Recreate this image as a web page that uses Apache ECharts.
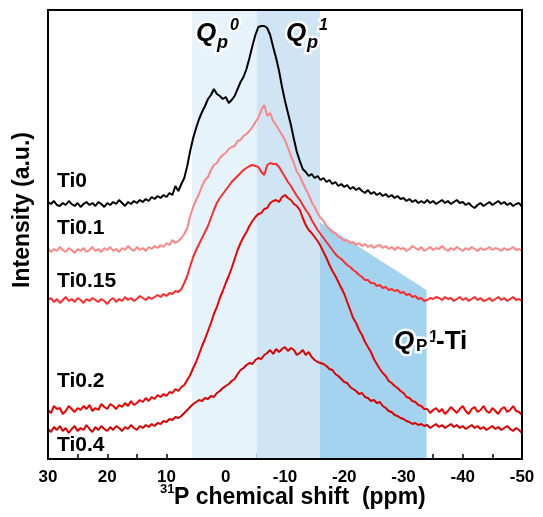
<!DOCTYPE html>
<html>
<head>
<meta charset="utf-8">
<script src="https://cdn.jsdelivr.net/npm/echarts@6/dist/echarts.min.js"></script>
<style>
html,body{margin:0;padding:0;background:#fff;}
#chart{width:543px;height:517px;}
</style>
</head>
<body>
<div id="chart"></div>
<script>
// chemical shift (ppm)
var shift = [
30,29.5,29,28.5,28,27.5,27,26.5,26,25.5,
25,24.5,24,23.5,23,22.5,22,21.5,21,20.5,
20,19.5,19,18.5,18,17.5,17,16.5,16,15.5,
15,14.5,14,13.5,13,12.5,12,11.5,11,10.5,
10,9.5,9,8.5,8,7.5,7,6.5,6,5.5,
5,4.5,4,3.5,3,2.5,2,1.5,1,0.5,
0,-0.5,-1,-1.5,-2,-2.5,-3,-3.5,-4,-4.5,
-5,-5.5,-6,-6.5,-7,-7.5,-8,-8.5,-9,-9.5,
-10,-10.5,-11,-11.5,-12,-12.5,-13,-13.5,-14,-14.5,
-15,-15.5,-16,-16.5,-17,-17.5,-18,-18.5,-19,-19.5,
-20,-20.5,-21,-21.5,-22,-22.5,-23,-23.5,-24,-24.5,
-25,-25.5,-26,-26.5,-27,-27.5,-28,-28.5,-29,-29.5,
-30,-30.5,-31,-31.5,-32,-32.5,-33,-33.5,-34,-34.5,
-35,-35.5,-36,-36.5,-37,-37.5,-38,-38.5,-39,-39.5,
-40,-40.5,-41,-41.5,-42,-42.5,-43,-43.5,-44,-44.5,
-45,-45.5,-46,-46.5,-47,-47.5,-48,-48.5,-49,-49.5,
-50];

// stacked intensities (a.u., offset per sample)
var ti0 = [
257,255,258,254,253,256,254,258,255,253,
256,252,255,257,254,256,253,257,255,252,
256,254,257,255,259,256,253,257,255,258,
256,259,257,260,258,262,260,263,261,264,
262,266,264,273,268,275,281,293,308,321,
331,340,347,353,360,364,370,365,363,360,
362,356,359,363,370,377,382,390,401,413,
424,432,433,433,431,424,412,401,388,372,
358,346,334,320,307,298,290,287,283,285,
281,283,279,281,277,279,275,277,273,275,
272,274,270,272,269,271,268,266,269,265,
267,264,266,263,265,262,264,261,263,260,
261,258,260,257,259,256,258,256,259,256,
258,255,257,259,256,258,255,257,259,256,
257,254,256,253,251,254,256,253,255,257,
254,256,258,255,257,254,256,253,255,256,
252];

var ti01 = [
211,207,210,208,212,209,207,211,209,206,
210,208,211,207,209,212,208,210,207,211,
209,212,208,210,207,211,209,213,210,208,
212,209,211,208,212,210,213,211,214,212,
216,214,219,216,218,221,225,231,243,252,
259,265,273,279,282,289,294,296,301,304,
306,310,312,313,318,319,323,325,328,332,
337,341,349,354,343,346,338,334,329,324,
319,311,303,296,287,283,276,270,264,257,
252,246,241,238,233,230,227,226,222,221,
218,219,216,217,214,216,213,215,212,214,
211,213,214,211,213,210,212,209,212,210,
211,208,210,213,211,209,212,208,210,212,
209,211,210,213,210,208,211,209,212,210,
208,211,209,212,210,208,211,209,210,212,
209,211,210,208,211,209,210,212,209,210,
208];

var ti015 = [
159,161,157,160,156,159,162,158,160,157,
161,159,156,160,158,161,159,157,160,158,
155,159,161,157,160,158,162,159,161,158,
160,163,161,159,162,160,162,164,162,165,
163,166,165,168,167,170,176,183,193,202,
209,215,221,227,233,241,249,256,261,265,
269,273,277,280,283,286,289,291,293,294,
293,292,287,284,294,296,295,295,292,287,
282,277,273,268,263,259,254,249,245,239,
234,229,225,221,217,213,209,205,202,200,
197,194,192,189,187,184,182,179,179,176,
176,173,174,171,172,169,170,168,169,166,
167,164,165,162,163,160,161,158,159,161,
160,162,161,159,162,160,161,158,160,162,
159,161,158,160,162,159,161,158,159,161,
158,160,162,159,161,158,160,162,159,160,
158];

var ti02 = [
49,46,53,50,51,45,48,53,50,47,
51,49,53,50,54,48,51,49,55,52,
50,55,53,50,54,52,56,53,58,54,
56,59,57,61,58,62,60,64,62,65,
63,67,66,70,68,72,74,79,84,91,
97,105,113,120,128,136,145,152,161,168,
176,183,191,200,209,216,222,227,233,238,
242,245,246,250,251,256,258,259,257,262,
264,261,259,255,253,249,241,234,229,226,
222,218,213,207,201,194,188,183,177,171,
165,157,149,141,136,129,124,117,112,107,
100,95,90,86,83,78,76,73,71,68,
66,62,61,58,57,54,53,50,50,46,
49,51,47,50,45,48,52,49,46,50,
53,48,45,50,52,47,49,53,48,46,
51,48,45,50,52,47,49,53,48,47,
44];

var ti04 = [
30,27,32,29,33,28,31,26,30,33,
28,31,29,34,30,27,32,29,33,30,
28,32,29,33,31,28,32,30,34,31,
29,33,31,34,32,35,33,36,35,38,
37,40,39,42,41,43,46,49,52,55,
57,59,58,61,60,63,62,66,68,71,
73,75,78,80,85,89,91,94,96,95,
99,101,100,104,106,109,105,110,107,110,
112,108,111,109,104,106,109,104,107,102,
99,97,96,95,93,90,89,85,83,80,
77,76,72,70,68,65,66,62,61,58,
59,56,57,53,51,48,47,44,43,41,
40,38,37,35,36,34,35,33,34,31,
33,35,32,34,31,33,35,32,34,31,
33,30,32,34,31,33,30,32,29,31,
33,30,32,29,31,33,30,28,31,29,
26];

var sampleNames = ['Ti0', 'Ti0.1', 'Ti0.15', 'Ti0.2', 'Ti0.4'];
var xTicks = [30, 20, 10, 0, -10, -20, -30, -40, -50];

// shaded assignment regions (ppm) and Qp1-Ti trapezoid
var qp0Range = [5.7, -5.2];
var qp1Range = [-5.2, -15.9];
var qp1TiShift = [-15.9, -33.9];
var qp1TiTop = [237, 169];

var FONT = 'Arial, "Liberation Sans", sans-serif';

function pairs(ys) { return shift.map(function (x, i) { return [x, ys[i]]; }); }

var lineColors = ['#000000', '#ff8585', '#ff2a2a', '#f20000', '#d80000'];
var allData = [ti0, ti01, ti015, ti02, ti04];

var series = [{
  type: 'line',
  z: 1,
  silent: true,
  symbol: 'none',
  data: qp1TiShift.map(function (x, i) { return [x, qp1TiTop[i]]; }),
  lineStyle: { width: 0, opacity: 0 },
  areaStyle: { color: '#a3d3ef', opacity: 1, origin: 'start' },
  markArea: {
    silent: true,
    data: [
      [{ xAxis: qp0Range[0], itemStyle: { color: '#e6f3fa' } }, { xAxis: qp0Range[1] }],
      [{ xAxis: qp1Range[0], itemStyle: { color: '#cfe5f3' } }, { xAxis: qp1Range[1] }]
    ]
  }
}];
for (var k = allData.length - 1; k >= 0; k--) {
  series.push({
    name: sampleNames[k],
    type: 'line',
    z: 3,
    symbol: 'none',
    data: pairs(allData[k]),
    lineStyle: { width: 2, color: lineColors[k] }
  });
}

function txt(x, y, text, size, opts) {
  opts = opts || {};
  return {
    type: 'text', x: x, y: y, z: 100, silent: true,
    rotation: opts.rotation || 0,
    style: {
      text: text,
      font: (opts.italic ? 'italic ' : '') + 'bold ' + size + 'px ' + FONT,
      fill: '#000',
      align: opts.align || 'left',
      verticalAlign: 'middle',
      stroke: opts.halo ? 'rgba(255,255,255,0.9)' : null,
      lineWidth: opts.halo ? 5 : 0,
      shadowColor: opts.halo ? '#fff' : null,
      shadowBlur: opts.halo ? 6 : 0
    }
  };
}

var graphics = [
  txt(57, 181, sampleNames[0], 21),
  txt(57, 228, sampleNames[1], 21),
  txt(57, 281, sampleNames[2], 21),
  txt(57, 381, sampleNames[3], 21),
  txt(57, 445, sampleNames[4], 21),
  // Qp0
  txt(196, 34, 'Q', 26, { italic: true, halo: true }),
  txt(217, 43, 'p', 18, { italic: true, halo: true }),
  txt(230, 26, '0', 16, { italic: true, halo: true }),
  // Qp1
  txt(286, 34, 'Q', 26, { italic: true, halo: true }),
  txt(307, 43, 'p', 18, { italic: true, halo: true }),
  txt(319, 26, '1', 16, { italic: true, halo: true }),
  // QP1-Ti
  txt(394, 342, 'Q', 26, { italic: true, halo: true }),
  txt(416, 346, 'P', 17, { halo: true }),
  txt(429, 337, '1', 17, { halo: true }),
  txt(436, 342, '-Ti', 26, { halo: true }),
  // axis titles
  txt(23, 210, 'Intensity (a.u.)', 23, { rotation: Math.PI / 2, align: 'center' }),
  txt(160, 489, '31', 13),
  txt(174, 498, 'P chemical shift  (ppm)', 23)
];

var chart = echarts.init(document.getElementById('chart'), null, { renderer: 'canvas' });
chart.setOption({
  animation: false,
  backgroundColor: '#fff',
  grid: { left: 48, right: 21, top: 10, bottom: 58, show: true, borderColor: '#000', borderWidth: 2, backgroundColor: 'transparent', z: 50 },
  xAxis: {
    type: 'value', min: -50, max: 30, interval: 5, inverse: true,
    axisLine: { show: true, lineStyle: { color: '#000', width: 2 } },
    axisTick: { show: true, inside: true, length: 5, lineStyle: { color: '#000', width: 1.5 } },
    splitLine: { show: false },
    axisLabel: {
      color: '#000', fontWeight: 'bold', fontSize: 17, fontFamily: FONT, margin: 10,
      formatter: function (v) { return xTicks.indexOf(v) >= 0 ? String(v) : ''; }
    }
  },
  yAxis: {
    type: 'value', min: 0, max: 449,
    axisLine: { show: true, lineStyle: { color: '#000', width: 2 } },
    axisTick: { show: false }, axisLabel: { show: false }, splitLine: { show: false }
  },
  series: series,
  graphic: graphics
});
</script>
</body>
</html>
